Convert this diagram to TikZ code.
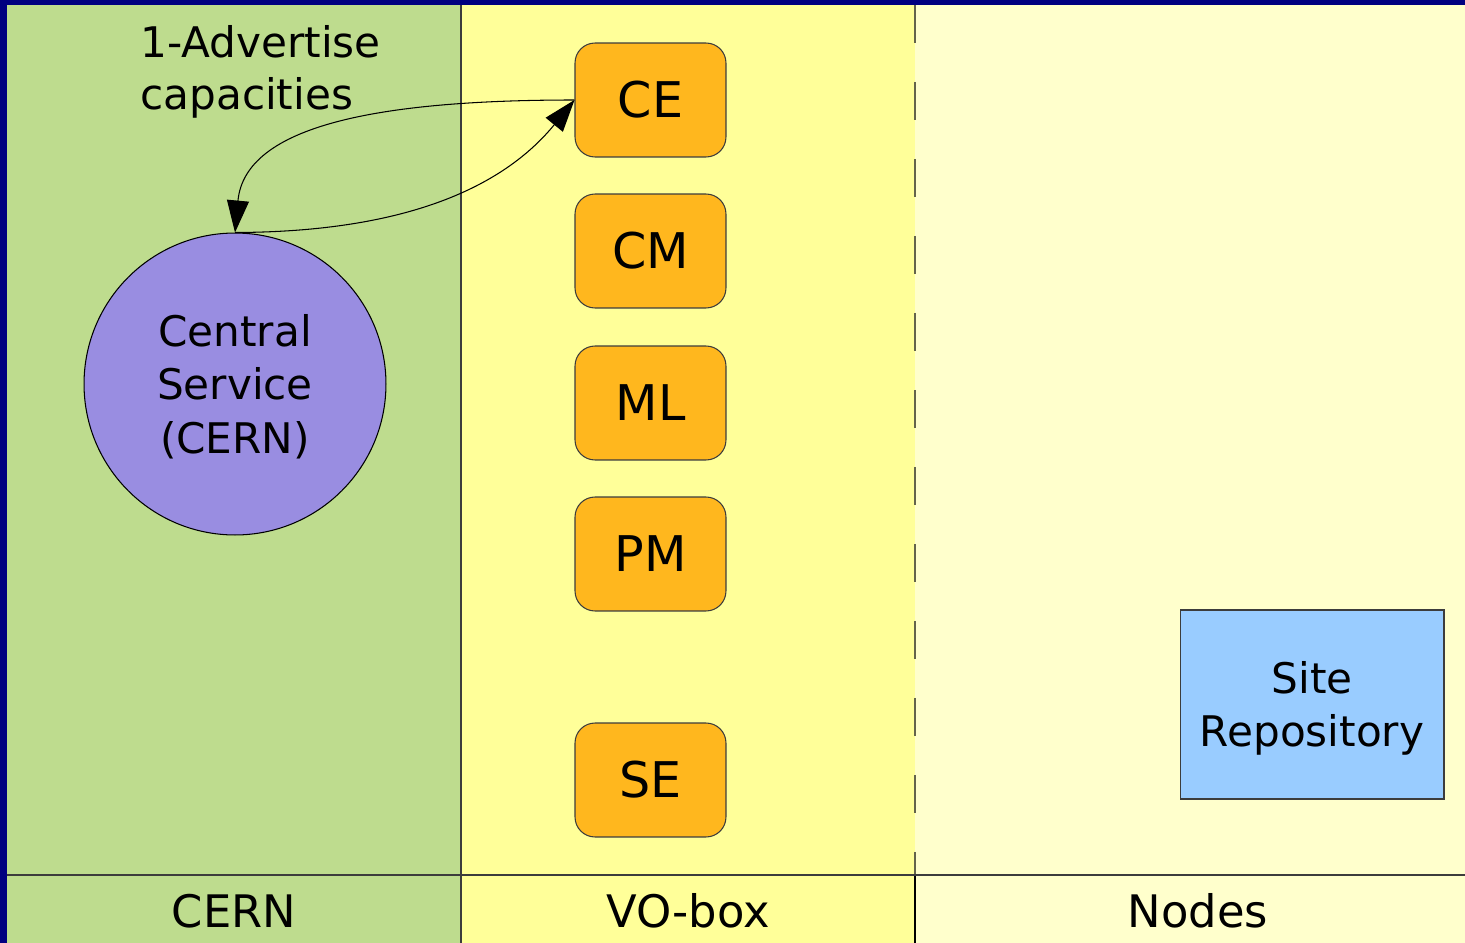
\documentclass[tikz,border=0pt]{standalone}
\usepackage{fontspec}
\setmainfont{DejaVu Sans}
\usetikzlibrary{arrows.meta}
\definecolor{navy}{RGB}{0,0,128}
\definecolor{cerngreen}{RGB}{190,220,142}
\definecolor{voyellow}{RGB}{255,255,153}
\definecolor{nodeyellow}{RGB}{255,255,204}
\definecolor{circlefill}{RGB}{153,141,225}
\definecolor{boxorange}{RGB}{255,183,30}
\definecolor{repoblue}{RGB}{153,204,255}
\definecolor{linegray}{RGB}{60,60,60}
\definecolor{dashgray}{RGB}{100,100,75}
\tikzset{
  lbl/.style={font=\fontsize{24}{30}\selectfont, inner sep=0pt},
  foot/.style={font=\fontsize{25.5}{30}\selectfont, inner sep=0pt},
  svc/.style={draw=linegray, line width=0.6pt, fill=boxorange, rounded corners=0.4cm,
    minimum width=3.02cm, minimum height=2.28cm, inner sep=0pt, font=\fontsize{28}{32}\selectfont},
  arr/.style={draw=black, line width=0.6pt, -{Triangle[length=0.64cm,width=0.44cm]}},
}
\begin{document}
\begin{tikzpicture}[x=0.02cm,y=-0.02cm]
\useasboundingbox (0,0) rectangle (1465,943);
% background
\fill[navy] (0,0) rectangle (1465,943);
\fill[cerngreen] (7,5) rectangle (461,943);
\fill[voyellow] (461,5) rectangle (915,943);
\fill[nodeyellow] (915,5) rectangle (1465,943);
% separators
\draw[linegray, line width=0.6pt] (461,5) -- (461,943);
\draw[dashgray, line width=0.9pt, dash pattern=on 0.77cm off 0.77cm] (915,5) -- (915,875);
\draw[black, line width=0.9pt] (915,875) -- (915,943);
\draw[linegray, line width=0.9pt] (7,875) -- (1465,875);
% bottom labels
\node[foot] (lcern) at (234,911) {CERN};
\node[foot] (lvo) at (688,911) {VO-box};
\node[foot] (lnodes) at (1198,911) {Nodes};
% title text
\node[lbl, align=left, anchor=west] (adv) at (140,72) {1-Advertise\\capacities};
% central service
\node[circle, draw=black, line width=0.6pt, fill=circlefill, minimum size=6.04cm, inner sep=0pt,
  align=center, font=\fontsize{24}{30.5}\selectfont] (cs) at (235,384) {\rule{0pt}{21pt}Central\\Service\\(CERN)};
% services
\node[svc] (ce) at (650.5,100) {CE};
\node[svc] (cm) at (650.5,251) {CM};
\node[svc] (ml) at (650.5,403) {ML};
\node[svc] (pm) at (650.5,554) {PM};
\node[svc] (se) at (650.5,780) {SE};
% site repository
\node[draw=linegray, line width=0.6pt, fill=repoblue, minimum width=5.28cm, minimum height=3.78cm,
  inner sep=0pt, align=center, font=\fontsize{24}{30}\selectfont] (repo) at (1312,704.5) {\rule{0pt}{23pt}Site\\Repository};
% arrows
\draw[arr] (ce.west) .. controls (380,100) and (245,125) .. (cs.north);
\draw[arr] (cs.north) .. controls (410,232) and (505,185) .. (ce.west);
\end{tikzpicture}
\end{document}
